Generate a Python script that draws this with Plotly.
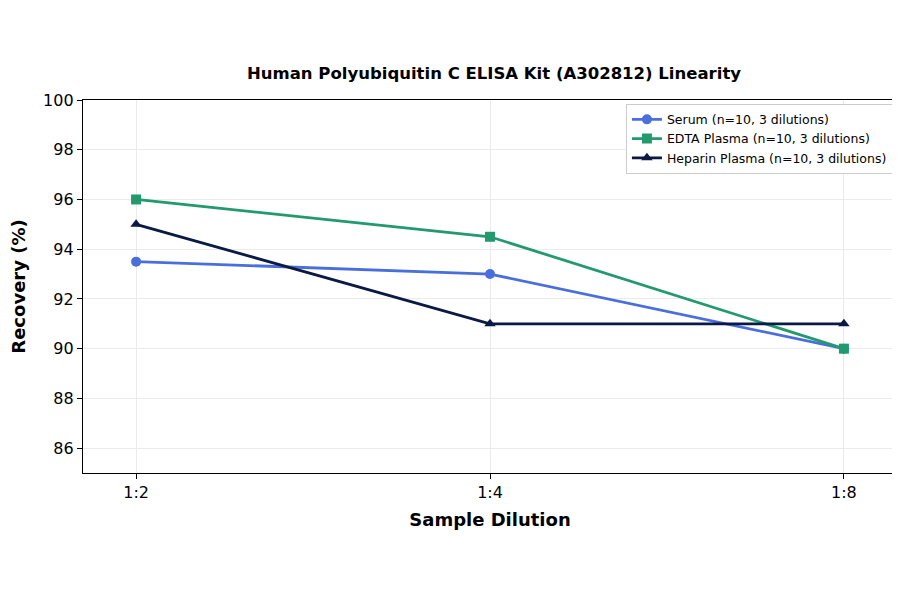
import plotly.graph_objects as go

dilutions = ['1:2', '1:4', '1:8']
serum = [93.5, 93.0, 90.0]
edta = [96.0, 94.5, 90.0]
heparin = [95.0, 91.0, 91.0]

series = [
    ('Serum (n=10, 3 dilutions)', serum, '#4a6fdc', 'circle'),
    ('EDTA Plasma (n=10, 3 dilutions)', edta, '#23996e', 'square'),
    ('Heparin Plasma (n=10, 3 dilutions)', heparin, '#0b1a45', 'triangle-up'),
]

fig = go.Figure()
for name, vals, color, sym in series:
    fig.add_trace(go.Scatter(
        x=[0, 1, 2], y=vals, name=name, mode='lines+markers',
        line=dict(color=color, width=2.8),
        marker=dict(symbol=sym, size=10, color=color),
    ))

axis_common = dict(showline=True, linecolor='black', linewidth=1.3, mirror=True,
                   ticks='outside', tickcolor='black', ticklen=5,
                   showgrid=True, gridcolor='#ebebeb', zeroline=False,
                   tickfont=dict(size=16, color='black'))

fig.update_layout(
    width=900, height=594,
    paper_bgcolor='white', plot_bgcolor='white',
    font=dict(family='DejaVu Sans', color='black'),
    title=dict(text='<b>Human Polyubiquitin C ELISA Kit (A302812) Linearity</b>',
               x=0.54, xanchor='center', y=0.89, yanchor='middle', font=dict(size=16.5)),
    margin=dict(l=75, r=11, t=92, b=129),
    xaxis=dict(range=[-0.15, 2.15], tickvals=[0, 1, 2], ticktext=dilutions,
               title=dict(text='<b>Sample Dilution</b>', font=dict(size=18), standoff=12),
               **axis_common),
    yaxis=dict(range=[85, 100], dtick=2, tick0=86,
               title=dict(text='<b>Recovery (%)</b>', font=dict(size=18), standoff=12),
               **axis_common),
    legend=dict(x=0.995, y=0.99, xanchor='right', yanchor='top',
                bgcolor='white', bordercolor='#cccccc', borderwidth=1,
                font=dict(size=12.5), tracegroupgap=0),
)

fig.write_html('out.html')
